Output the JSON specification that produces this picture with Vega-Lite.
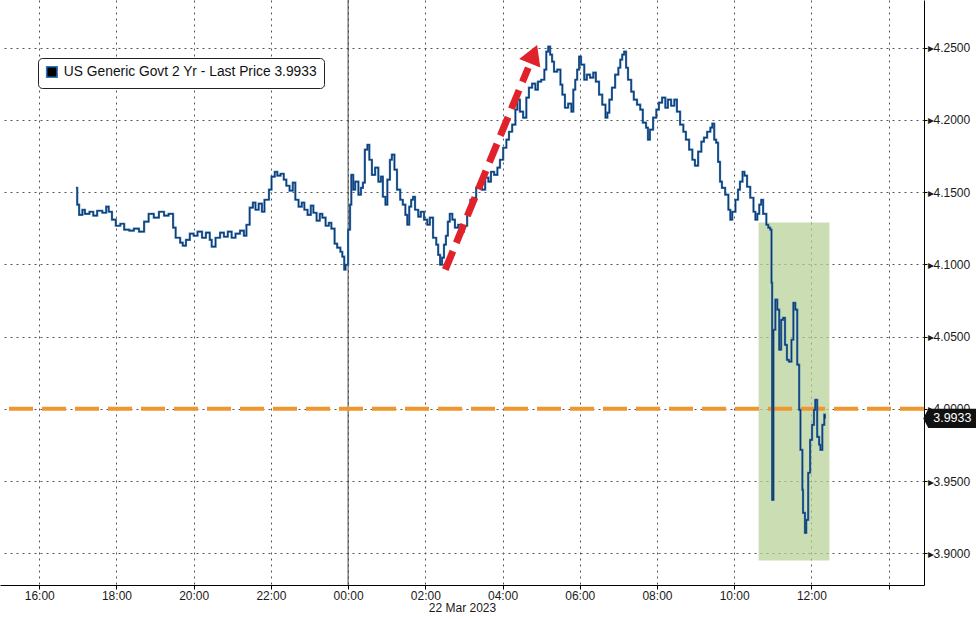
{
  "width": 924,
  "height": 585,
  "autosize": {"type": "none"},
  "padding": {"left": 0, "top": 0, "right": 52, "bottom": 34},
  "background": "white",
  "config": {"view": {"stroke": null}, "font": "Liberation Sans"},
  "datasets": {
    "yield": [
      {"t":"2023-03-21T16:57","v":4.1530},{"t":"2023-03-21T16:59","v":4.1413},{"t":"2023-03-21T17:02","v":4.1343},{"t":"2023-03-21T17:07","v":4.1378},
      {"t":"2023-03-21T17:11","v":4.1350},{"t":"2023-03-21T17:18","v":4.1364},{"t":"2023-03-21T17:24","v":4.1337},{"t":"2023-03-21T17:30","v":4.1371},
      {"t":"2023-03-21T17:38","v":4.1357},{"t":"2023-03-21T17:44","v":4.1399},{"t":"2023-03-21T17:48","v":4.1364},{"t":"2023-03-21T17:53","v":4.1309},
      {"t":"2023-03-21T17:59","v":4.1267},{"t":"2023-03-21T18:06","v":4.1281},{"t":"2023-03-21T18:12","v":4.1240},{"t":"2023-03-21T18:20","v":4.1233},
      {"t":"2023-03-21T18:27","v":4.1247},{"t":"2023-03-21T18:35","v":4.1226},{"t":"2023-03-21T18:43","v":4.1295},{"t":"2023-03-21T18:50","v":4.1350},
      {"t":"2023-03-21T18:58","v":4.1323},{"t":"2023-03-21T19:06","v":4.1364},{"t":"2023-03-21T19:14","v":4.1337},{"t":"2023-03-21T19:21","v":4.1350},
      {"t":"2023-03-21T19:28","v":4.1254},{"t":"2023-03-21T19:32","v":4.1184},{"t":"2023-03-21T19:39","v":4.1150},{"t":"2023-03-21T19:43","v":4.1129},
      {"t":"2023-03-21T19:48","v":4.1170},{"t":"2023-03-21T19:54","v":4.1212},{"t":"2023-03-21T20:00","v":4.1198},{"t":"2023-03-21T20:06","v":4.1226},
      {"t":"2023-03-21T20:13","v":4.1184},{"t":"2023-03-21T20:19","v":4.1219},{"t":"2023-03-21T20:25","v":4.1170},{"t":"2023-03-21T20:28","v":4.1122},
      {"t":"2023-03-21T20:34","v":4.1184},{"t":"2023-03-21T20:41","v":4.1219},{"t":"2023-03-21T20:47","v":4.1191},{"t":"2023-03-21T20:53","v":4.1226},
      {"t":"2023-03-21T20:59","v":4.1184},{"t":"2023-03-21T21:05","v":4.1212},{"t":"2023-03-21T21:12","v":4.1233},{"t":"2023-03-21T21:18","v":4.1198},
      {"t":"2023-03-21T21:22","v":4.1274},{"t":"2023-03-21T21:27","v":4.1392},{"t":"2023-03-21T21:32","v":4.1427},{"t":"2023-03-21T21:36","v":4.1378},
      {"t":"2023-03-21T21:41","v":4.1420},{"t":"2023-03-21T21:46","v":4.1364},{"t":"2023-03-21T21:50","v":4.1447},{"t":"2023-03-21T21:57","v":4.1517},
      {"t":"2023-03-21T22:01","v":4.1607},{"t":"2023-03-21T22:06","v":4.1641},{"t":"2023-03-21T22:10","v":4.1614},{"t":"2023-03-21T22:15","v":4.1627},
      {"t":"2023-03-21T22:20","v":4.1586},{"t":"2023-03-21T22:24","v":4.1544},{"t":"2023-03-21T22:29","v":4.1510},{"t":"2023-03-21T22:34","v":4.1565},
      {"t":"2023-03-21T22:38","v":4.1447},{"t":"2023-03-21T22:43","v":4.1399},{"t":"2023-03-21T22:48","v":4.1427},{"t":"2023-03-21T22:52","v":4.1378},
      {"t":"2023-03-21T22:57","v":4.1343},{"t":"2023-03-21T23:02","v":4.1406},{"t":"2023-03-21T23:06","v":4.1357},{"t":"2023-03-21T23:11","v":4.1302},
      {"t":"2023-03-21T23:16","v":4.1350},{"t":"2023-03-21T23:20","v":4.1323},{"t":"2023-03-21T23:25","v":4.1267},{"t":"2023-03-21T23:30","v":4.1288},
      {"t":"2023-03-21T23:34","v":4.1247},{"t":"2023-03-21T23:39","v":4.1143},{"t":"2023-03-21T23:43","v":4.1115},{"t":"2023-03-21T23:48","v":4.1087},
      {"t":"2023-03-21T23:51","v":4.1053},{"t":"2023-03-21T23:54","v":4.0963},{"t":"2023-03-21T23:56","v":4.0997},
      {"t":"2023-03-22T00:00","v":4.1240},{"t":"2023-03-22T00:03","v":4.1413},{"t":"2023-03-22T00:05","v":4.1620},{"t":"2023-03-22T00:08","v":4.1517},
      {"t":"2023-03-22T00:11","v":4.1572},{"t":"2023-03-22T00:16","v":4.1482},{"t":"2023-03-22T00:20","v":4.1530},{"t":"2023-03-22T00:23","v":4.1565},
      {"t":"2023-03-22T00:26","v":4.1794},{"t":"2023-03-22T00:30","v":4.1828},{"t":"2023-03-22T00:33","v":4.1724},{"t":"2023-03-22T00:37","v":4.1620},
      {"t":"2023-03-22T00:42","v":4.1669},{"t":"2023-03-22T00:47","v":4.1572},{"t":"2023-03-22T00:51","v":4.1607},{"t":"2023-03-22T00:54","v":4.1468},
      {"t":"2023-03-22T00:58","v":4.1413},{"t":"2023-03-22T01:01","v":4.1586},{"t":"2023-03-22T01:05","v":4.1724},{"t":"2023-03-22T01:08","v":4.1759},
      {"t":"2023-03-22T01:12","v":4.1655},{"t":"2023-03-22T01:16","v":4.1517},{"t":"2023-03-22T01:21","v":4.1447},{"t":"2023-03-22T01:25","v":4.1413},
      {"t":"2023-03-22T01:29","v":4.1343},{"t":"2023-03-22T01:32","v":4.1274},{"t":"2023-03-22T01:35","v":4.1399},{"t":"2023-03-22T01:38","v":4.1447},
      {"t":"2023-03-22T01:41","v":4.1468},{"t":"2023-03-22T01:44","v":4.1378},{"t":"2023-03-22T01:49","v":4.1330},{"t":"2023-03-22T01:53","v":4.1364},
      {"t":"2023-03-22T01:58","v":4.1309},{"t":"2023-03-22T02:03","v":4.1274},{"t":"2023-03-22T02:07","v":4.1323},{"t":"2023-03-22T02:12","v":4.1184},
      {"t":"2023-03-22T02:17","v":4.1136},{"t":"2023-03-22T02:20","v":4.1066},{"t":"2023-03-22T02:23","v":4.0997},{"t":"2023-03-22T02:26","v":4.1046},
      {"t":"2023-03-22T02:29","v":4.1136},{"t":"2023-03-22T02:32","v":4.1198},{"t":"2023-03-22T02:35","v":4.1295},{"t":"2023-03-22T02:38","v":4.1350},
      {"t":"2023-03-22T02:42","v":4.1309},{"t":"2023-03-22T02:46","v":4.1254},{"t":"2023-03-22T02:51","v":4.1274},{"t":"2023-03-22T02:56","v":4.1226},
      {"t":"2023-03-22T03:00","v":4.1267},{"t":"2023-03-22T03:05","v":4.1364},{"t":"2023-03-22T03:10","v":4.1447},{"t":"2023-03-22T03:14","v":4.1461},
      {"t":"2023-03-22T03:19","v":4.1530},{"t":"2023-03-22T03:24","v":4.1551},{"t":"2023-03-22T03:28","v":4.1517},{"t":"2023-03-22T03:33","v":4.1600},
      {"t":"2023-03-22T03:38","v":4.1572},{"t":"2023-03-22T03:42","v":4.1641},{"t":"2023-03-22T03:47","v":4.1620},{"t":"2023-03-22T03:52","v":4.1669},
      {"t":"2023-03-22T03:56","v":4.1724},{"t":"2023-03-22T04:01","v":4.1807},{"t":"2023-03-22T04:06","v":4.1863},{"t":"2023-03-22T04:10","v":4.1918},
      {"t":"2023-03-22T04:15","v":4.1967},{"t":"2023-03-22T04:20","v":4.2071},{"t":"2023-03-22T04:23","v":4.2140},{"t":"2023-03-22T04:27","v":4.2057},
      {"t":"2023-03-22T04:32","v":4.2015},{"t":"2023-03-22T04:37","v":4.2154},{"t":"2023-03-22T04:41","v":4.2223},{"t":"2023-03-22T04:46","v":4.2251},
      {"t":"2023-03-22T04:51","v":4.2209},{"t":"2023-03-22T04:55","v":4.2265},{"t":"2023-03-22T05:00","v":4.2278},{"t":"2023-03-22T05:05","v":4.2348},
      {"t":"2023-03-22T05:08","v":4.2472},{"t":"2023-03-22T05:11","v":4.2507},{"t":"2023-03-22T05:14","v":4.2452},{"t":"2023-03-22T05:17","v":4.2403},
      {"t":"2023-03-22T05:20","v":4.2334},{"t":"2023-03-22T05:25","v":4.2348},{"t":"2023-03-22T05:30","v":4.2244},{"t":"2023-03-22T05:33","v":4.2175},
      {"t":"2023-03-22T05:37","v":4.2084},{"t":"2023-03-22T05:42","v":4.2112},{"t":"2023-03-22T05:47","v":4.2057},{"t":"2023-03-22T05:50","v":4.2209},
      {"t":"2023-03-22T05:53","v":4.2278},{"t":"2023-03-22T05:56","v":4.2348},{"t":"2023-03-22T05:59","v":4.2438},{"t":"2023-03-22T06:02","v":4.2382},
      {"t":"2023-03-22T06:07","v":4.2278},{"t":"2023-03-22T06:11","v":4.2313},{"t":"2023-03-22T06:16","v":4.2292},{"t":"2023-03-22T06:21","v":4.2327},
      {"t":"2023-03-22T06:25","v":4.2265},{"t":"2023-03-22T06:30","v":4.2175},{"t":"2023-03-22T06:35","v":4.2105},{"t":"2023-03-22T06:40","v":4.2015},
      {"t":"2023-03-22T06:43","v":4.2050},{"t":"2023-03-22T06:46","v":4.2140},{"t":"2023-03-22T06:50","v":4.2223},{"t":"2023-03-22T06:55","v":4.2313},
      {"t":"2023-03-22T07:00","v":4.2361},{"t":"2023-03-22T07:03","v":4.2417},{"t":"2023-03-22T07:06","v":4.2452},{"t":"2023-03-22T07:09","v":4.2472},
      {"t":"2023-03-22T07:12","v":4.2361},{"t":"2023-03-22T07:15","v":4.2278},{"t":"2023-03-22T07:20","v":4.2195},{"t":"2023-03-22T07:24","v":4.2140},
      {"t":"2023-03-22T07:29","v":4.2105},{"t":"2023-03-22T07:34","v":4.2071},{"t":"2023-03-22T07:38","v":4.1981},{"t":"2023-03-22T07:43","v":4.1946},
      {"t":"2023-03-22T07:46","v":4.1863},{"t":"2023-03-22T07:49","v":4.1932},{"t":"2023-03-22T07:54","v":4.2015},{"t":"2023-03-22T07:59","v":4.2071},
      {"t":"2023-03-22T08:03","v":4.2119},{"t":"2023-03-22T08:08","v":4.2154},{"t":"2023-03-22T08:13","v":4.2084},{"t":"2023-03-22T08:17","v":4.2140},
      {"t":"2023-03-22T08:22","v":4.2098},{"t":"2023-03-22T08:27","v":4.2140},{"t":"2023-03-22T08:31","v":4.2057},{"t":"2023-03-22T08:36","v":4.1967},
      {"t":"2023-03-22T08:41","v":4.1918},{"t":"2023-03-22T08:45","v":4.1863},{"t":"2023-03-22T08:50","v":4.1794},{"t":"2023-03-22T08:55","v":4.1724},
      {"t":"2023-03-22T08:59","v":4.1683},{"t":"2023-03-22T09:04","v":4.1780},{"t":"2023-03-22T09:09","v":4.1849},{"t":"2023-03-22T09:13","v":4.1877},
      {"t":"2023-03-22T09:18","v":4.1918},{"t":"2023-03-22T09:23","v":4.1946},{"t":"2023-03-22T09:26","v":4.1974},{"t":"2023-03-22T09:29","v":4.1863},
      {"t":"2023-03-22T09:32","v":4.1842},{"t":"2023-03-22T09:35","v":4.1710},{"t":"2023-03-22T09:38","v":4.1572},{"t":"2023-03-22T09:41","v":4.1530},
      {"t":"2023-03-22T09:46","v":4.1482},{"t":"2023-03-22T09:51","v":4.1378},{"t":"2023-03-22T09:54","v":4.1309},{"t":"2023-03-22T09:57","v":4.1364},
      {"t":"2023-03-22T10:02","v":4.1447},{"t":"2023-03-22T10:06","v":4.1517},{"t":"2023-03-22T10:09","v":4.1572},{"t":"2023-03-22T10:13","v":4.1641},
      {"t":"2023-03-22T10:16","v":4.1614},{"t":"2023-03-22T10:20","v":4.1537},{"t":"2023-03-22T10:25","v":4.1461},{"t":"2023-03-22T10:30","v":4.1364},
      {"t":"2023-03-22T10:33","v":4.1309},{"t":"2023-03-22T10:36","v":4.1350},{"t":"2023-03-22T10:39","v":4.1413},{"t":"2023-03-22T10:42","v":4.1447},
      {"t":"2023-03-22T10:45","v":4.1350},{"t":"2023-03-22T10:50","v":4.1274},{"t":"2023-03-22T10:53","v":4.1254},{"t":"2023-03-22T10:56","v":4.1240},
      {"t":"2023-03-22T10:58","v":4.0873},{"t":"2023-03-22T10:59","v":3.9370},{"t":"2023-03-22T11:01","v":4.0547},{"t":"2023-03-22T11:04","v":4.0755},
      {"t":"2023-03-22T11:07","v":4.0686},{"t":"2023-03-22T11:10","v":4.0409},{"t":"2023-03-22T11:13","v":4.0616},{"t":"2023-03-22T11:16","v":4.0630},
      {"t":"2023-03-22T11:19","v":4.0443},{"t":"2023-03-22T11:22","v":4.0339},{"t":"2023-03-22T11:25","v":4.0326},{"t":"2023-03-22T11:29","v":4.0478},
      {"t":"2023-03-22T11:32","v":4.0734},{"t":"2023-03-22T11:35","v":4.0686},{"t":"2023-03-22T11:38","v":4.0305},{"t":"2023-03-22T11:41","v":3.9993},
      {"t":"2023-03-22T11:43","v":3.9716},{"t":"2023-03-22T11:46","v":3.9439},{"t":"2023-03-22T11:47","v":3.9280},{"t":"2023-03-22T11:50","v":3.9141},
      {"t":"2023-03-22T11:52","v":3.9231},{"t":"2023-03-22T11:55","v":3.9557},{"t":"2023-03-22T11:58","v":3.9785},{"t":"2023-03-22T12:01","v":3.9889},
      {"t":"2023-03-22T12:04","v":3.9993},{"t":"2023-03-22T12:06","v":4.0062},{"t":"2023-03-22T12:09","v":3.9806},{"t":"2023-03-22T12:12","v":3.9751},
      {"t":"2023-03-22T12:14","v":3.9716},{"t":"2023-03-22T12:17","v":3.9889},{"t":"2023-03-22T12:20","v":3.9959},{"t":"2023-03-22T12:21","v":3.9933}
    ],
    "zone": [{"t":"2023-03-22T10:38","t2":"2023-03-22T12:28","v":4.129,"v2":3.895}],
    "arrow": [{"t":"2023-03-22T02:31","v":4.0963},{"t":"2023-03-22T04:40","v":4.2361}],
    "arrowhead": [{"t":"2023-03-22T04:48","v":4.2455}],
    "midnight": [{"t":"2023-03-22T00:00"}],
    "level": [{"v":4.0}],
    "last": [{"t":"2023-03-22T15:39","v":3.9933,"label":"3.9933"}]
  },
  "layer": [
    {
      "data": {"name": "zone"},
      "mark": {"type": "rect", "color": "#b5cf92", "opacity": 0.7},
      "encoding": {
        "x": {
          "field": "t", "type": "temporal",
          "scale": {"domain": [{"year":2023,"month":3,"date":21,"hours":14,"minutes":59},{"year":2023,"month":3,"date":22,"hours":14,"minutes":55}], "nice": false},
          "axis": {
            "values": [
              {"year":2023,"month":3,"date":21,"hours":16},{"year":2023,"month":3,"date":21,"hours":18},{"year":2023,"month":3,"date":21,"hours":20},
              {"year":2023,"month":3,"date":21,"hours":22},{"year":2023,"month":3,"date":22,"hours":0},{"year":2023,"month":3,"date":22,"hours":2},
              {"year":2023,"month":3,"date":22,"hours":4},{"year":2023,"month":3,"date":22,"hours":6},{"year":2023,"month":3,"date":22,"hours":8},
              {"year":2023,"month":3,"date":22,"hours":10},{"year":2023,"month":3,"date":22,"hours":12},{"year":2023,"month":3,"date":22,"hours":14}
            ],
            "format": "%H:%M",
            "labelExpr": "datum.label == '14:00' ? '' : datum.label",
            "title": "22 Mar 2023", "titleFontWeight": "normal", "titleFontSize": 12, "titleColor": "#1a1a1a", "titlePadding": 1,
            "labelFontSize": 12, "labelColor": "#1a1a1a", "labelPadding": 1, "tickSize": 4,
            "gridDash": [2, 4], "gridColor": "#555", "tickColor": "#000", "domainColor": "#000"
          }
        },
        "x2": {"field": "t2"},
        "y": {
          "field": "v", "type": "quantitative",
          "scale": {"domain": [3.878, 4.283], "nice": false, "zero": false},
          "axis": {
            "orient": "right", "values": [3.9, 3.95, 4.0, 4.05, 4.1, 4.15, 4.2, 4.25],
            "labelExpr": "'▸' + format(datum.value, '.4f')", "title": null,
            "labelFontSize": 12, "labelColor": "#1a1a1a", "labelPadding": 0, "tickSize": 3,
            "gridDash": [2, 4], "gridColor": "#555", "tickColor": "#000", "domainColor": "#000"
          }
        },
        "y2": {"field": "v2"}
      }
    },
    {
      "data": {"name": "midnight"},
      "mark": {"type": "rule", "color": "#444", "strokeWidth": 1},
      "encoding": {"x": {"field": "t", "type": "temporal"}}
    },
    {
      "data": {"name": "level"},
      "mark": {"type": "rule", "color": "#ef962e", "strokeWidth": 4, "strokeDash": [24, 9]},
      "encoding": {"y": {"field": "v", "type": "quantitative"}}
    },
    {
      "data": {"name": "yield"},
      "mark": {"type": "line", "strokeWidth": 2.2, "interpolate": "step-after"},
      "encoding": {
        "x": {"field": "t", "type": "temporal"},
        "y": {"field": "v", "type": "quantitative"},
        "color": {
          "datum": "US Generic Govt 2 Yr - Last Price 3.9933",
          "scale": {"range": ["#2f74c0"]},
          "legend": {
            "orient": "none", "legendX": 38, "legendY": 58, "title": null,
            "symbolType": "square", "symbolFillColor": "black", "symbolStrokeColor": "black", "symbolSize": 110,
            "labelFontSize": 13.8, "labelColor": "#111", "labelLimit": 400, "labelOffset": 5,
            "padding": 7, "strokeColor": "#222", "fillColor": "white", "cornerRadius": 4
          }
        }
      }
    },
    {
      "data": {"name": "yield"},
      "mark": {"type": "line", "strokeWidth": 0.9, "color": "#000", "opacity": 0.6, "interpolate": "step-after"},
      "encoding": {"x": {"field": "t", "type": "temporal"}, "y": {"field": "v", "type": "quantitative"}}
    },
    {
      "data": {"name": "arrow"},
      "mark": {"type": "line", "color": "#e0232b", "strokeWidth": 7, "strokeDash": [20, 9], "strokeCap": "butt"},
      "encoding": {"x": {"field": "t", "type": "temporal"}, "y": {"field": "v", "type": "quantitative"}}
    },
    {
      "data": {"name": "arrowhead"},
      "mark": {"type": "point", "shape": "triangle-up", "filled": true, "color": "#e0232b", "size": 520, "angle": 22, "opacity": 1},
      "encoding": {"x": {"field": "t", "type": "temporal"}, "y": {"field": "v", "type": "quantitative"}}
    },
    {
      "data": {"name": "last"},
      "mark": {"type": "point", "shape": "M-1.21,0L-1,-0.4L1,-0.4L1,0.4L-1,0.4Z", "filled": true, "color": "#111", "size": 2304, "opacity": 1},
      "encoding": {"x": {"field": "t", "type": "temporal"}, "y": {"field": "v", "type": "quantitative"}}
    },
    {
      "data": {"name": "last"},
      "mark": {"type": "text", "color": "white", "fontSize": 12.5, "align": "center", "baseline": "middle"},
      "encoding": {"x": {"field": "t", "type": "temporal"}, "y": {"field": "v", "type": "quantitative"}, "text": {"field": "label"}}
    }
  ]
}
